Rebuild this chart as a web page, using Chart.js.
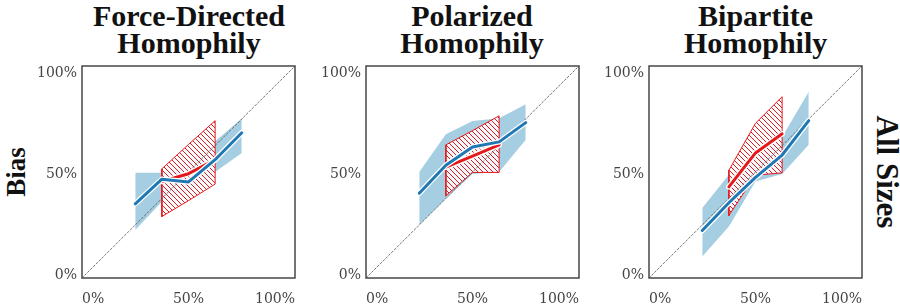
<!DOCTYPE html>
<html><head><meta charset="utf-8">
<script src="https://cdn.jsdelivr.net/npm/chart.js@4.4.1/dist/chart.umd.min.js"></script>
<style>
html,body{margin:0;padding:0;background:#fff;}
body{width:900px;height:305px;position:relative;overflow:hidden;}
canvas.panel{position:absolute;top:0;}
.title{position:absolute;top:2px;width:300px;text-align:center;font-family:'Liberation Serif',serif;font-weight:bold;font-size:30px;line-height:27px;color:#111;white-space:nowrap;}
.rot{position:absolute;font-family:'Liberation Serif',serif;font-weight:bold;color:#111;white-space:nowrap;line-height:1;}
</style></head><body>
<div id="titles"></div>
<div class="rot" id="ylab" style="left:15.7px;top:172px;font-size:27px;transform:translate(-50%,-50%) rotate(-90deg);"></div>
<div class="rot" id="rlab" style="left:886.5px;top:172px;font-size:31px;transform:translate(-50%,-50%) rotate(90deg);"></div>
<canvas class="panel" id="c0" width="283" height="305" style="left:22px"></canvas>
<canvas class="panel" id="c1" width="283" height="305" style="left:306px"></canvas>
<canvas class="panel" id="c2" width="283" height="305" style="left:589px"></canvas>
<script>
// ---------- data ----------
const xBlue = [25, 37.5, 50, 62.5, 75];
const xRed = [37.5, 50, 62.5];
const xTickVals = [0, 50, 100];
const xTickLabels = ['0%', '50%', '100%'];
const yTickVals = [0, 50, 100];
const yTickLabels = ['0%', '50%', '100%'];
const diagonal = [0, 100];
const panelTitles = [['Force-Directed', 'Homophily'], ['Polarized', 'Homophily'], ['Bipartite', 'Homophily']];
const yAxisTitle = 'Bias';
const rowTitle = 'All Sizes';

// Force-Directed Homophily
const fdBlueMean = [35.0, 46.6, 45.3, 55.8, 68.5];
const fdBlueLow  = [22.7, 36.0, 40.0, 50.0, 59.0];
const fdBlueHigh = [49.7, 49.7, 55.0, 64.5, 75.2];
const fdRedMean  = [45.5, 49.2, 55.8];
const fdRedLow   = [29.0, 36.5, 44.3];
const fdRedHigh  = [51.5, 63.0, 74.2];

// Polarized Homophily
const poBlueMean = [40.0, 53.2, 61.8, 64.2, 73.3];
const poBlueLow  = [25.0, 37.5, 49.0, 50.0, 65.2];
const poBlueHigh = [50.0, 67.8, 74.0, 75.4, 82.0];
const poRedMean  = [52.3, 57.5, 62.8];
const poRedLow   = [38.8, 49.8, 49.8];
const poRedHigh  = [62.8, 69.5, 76.5];

// Bipartite Homophily
const biBlueMean = [22.4, 35.5, 47.5, 58.0, 74.2];
const biBlueLow  = [10.2, 24.3, 45.5, 49.0, 62.8];
const biBlueHigh = [33.0, 48.7, 55.0, 66.5, 87.9];
const biRedMean  = [43.0, 59.0, 68.0];
const biRedLow   = [29.5, 48.5, 49.6];
const biRedHigh  = [50.8, 73.0, 85.5];

// ---------- styling ----------
const BAND = '#a6cee3';
const BLUE = '#1f78b4';
const RED = '#e31a1c';

document.getElementById('ylab').textContent = yAxisTitle;
document.getElementById('rlab').textContent = rowTitle;
const titleLefts = [39, 322, 605.6];
const tBox = document.getElementById('titles');
panelTitles.forEach((t, i) => {
  const d = document.createElement('div');
  d.className = 'title';
  d.style.left = titleLefts[i] + 'px';
  d.innerHTML = t[0] + '<br>' + t[1];
  tBox.appendChild(d);
});

function pts(xs, ys) { return xs.map((x, i) => ({x: x, y: ys[i]})); }

function makePattern() {
  const s = 5;
  const c = document.createElement('canvas'); c.width = s; c.height = s;
  const g = c.getContext('2d');
  g.fillStyle = 'rgba(255,255,255,0.85)'; g.fillRect(0, 0, s, s);
  g.strokeStyle = RED; g.lineWidth = 1;
  g.beginPath();
  for (let k = -1; k <= 1; k++) { g.moveTo(0, k * s); g.lineTo(s, s + k * s); }
  g.stroke();
  return g.createPattern(c, 'repeat');
}

const framePlugin = {
  id: 'frame',
  afterDraw(chart) {
    const a = chart.chartArea, ctx = chart.ctx, ys = chart.scales.y;
    ctx.save();
    ctx.strokeStyle = '#3a3a3a'; ctx.lineWidth = 1.4;
    ctx.strokeRect(a.left, a.top, a.right - a.left, a.bottom - a.top);
    ctx.fillStyle = '#444';
    ctx.font = '14px "DejaVu Serif"';
    ctx.textAlign = 'right'; ctx.textBaseline = 'alphabetic';
    const n = yTickVals.length;
    yTickVals.forEach((v, i) => {
      const y = ys.getPixelForValue(v);
      const t = i / (n - 1);
      ctx.fillText(yTickLabels[i], a.left - 5, y + 10 * t + 1);
    });
    ctx.restore();
  }
};

function makeChart(id, bMean, bLow, bHigh, rMean, rLow, rHigh) {
  const pattern = makePattern();
  const outline = pts(xRed, rLow).concat(pts(xRed, rHigh).reverse(), pts(xRed, rLow).slice(0, 1));
  const lineBase = {showLine: true, pointRadius: 0, fill: false, borderCapStyle: 'round', borderJoinStyle: 'round'};
  new Chart(document.getElementById(id), {
    type: 'scatter',
    data: {datasets: [
      Object.assign({}, lineBase, {data: pts(xBlue, bLow), borderWidth: 0, borderColor: 'transparent', order: 10}),
      Object.assign({}, lineBase, {data: pts(xBlue, bHigh), borderWidth: 0, borderColor: 'transparent', fill: '-1', backgroundColor: BAND, order: 9}),
      Object.assign({}, lineBase, {data: pts(xRed, rLow), borderWidth: 0, borderColor: 'transparent', order: 8}),
      Object.assign({}, lineBase, {data: pts(xRed, rHigh), borderWidth: 0, borderColor: 'transparent', fill: '-1', backgroundColor: pattern, order: 7}),
      Object.assign({}, lineBase, {data: outline, borderWidth: 1, borderColor: RED, borderJoinStyle: 'miter', order: 6}),
      Object.assign({}, lineBase, {data: diagonal.map(v => ({x: v, y: v})), borderWidth: 0.8, borderColor: '#555', borderDash: [2, 2], order: 5}),
      Object.assign({}, lineBase, {data: pts(xRed, rMean), borderWidth: 5.5, borderColor: '#fff', order: 4}),
      Object.assign({}, lineBase, {data: pts(xRed, rMean), borderWidth: 3, borderColor: RED, order: 3}),
      Object.assign({}, lineBase, {data: pts(xBlue, bMean), borderWidth: 5.5, borderColor: '#fff', order: 2}),
      Object.assign({}, lineBase, {data: pts(xBlue, bMean), borderWidth: 3, borderColor: BLUE, order: 1})
    ]},
    options: {
      responsive: false, animation: false, devicePixelRatio: 1,
      layout: {padding: {left: 0, right: 10, top: 66, bottom: 0}},
      plugins: {legend: {display: false}, tooltip: {enabled: false}, title: {display: false}},
      scales: {
        x: {
          type: 'linear', min: 0, max: 100,
          grid: {display: false}, border: {display: false},
          afterBuildTicks: s => { s.ticks = xTickVals.map(v => ({value: v})); },
          afterFit: s => { s.height = 27; },
          ticks: {align: 'inner', padding: 5, maxRotation: 0, autoSkip: false, color: '#444',
                  font: {family: 'DejaVu Serif', size: 14},
                  callback: (v, i) => xTickLabels[i]}
        },
        y: {
          type: 'linear', min: 0, max: 100,
          grid: {display: false}, border: {display: false},
          afterBuildTicks: s => { s.ticks = yTickVals.map(v => ({value: v})); },
          afterFit: s => { s.width = 60; },
          ticks: {display: false}
        }
      }
    },
    plugins: [framePlugin]
  });
}

makeChart('c0', fdBlueMean, fdBlueLow, fdBlueHigh, fdRedMean, fdRedLow, fdRedHigh);
makeChart('c1', poBlueMean, poBlueLow, poBlueHigh, poRedMean, poRedLow, poRedHigh);
makeChart('c2', biBlueMean, biBlueLow, biBlueHigh, biRedMean, biRedLow, biRedHigh);
</script>
</body></html>
